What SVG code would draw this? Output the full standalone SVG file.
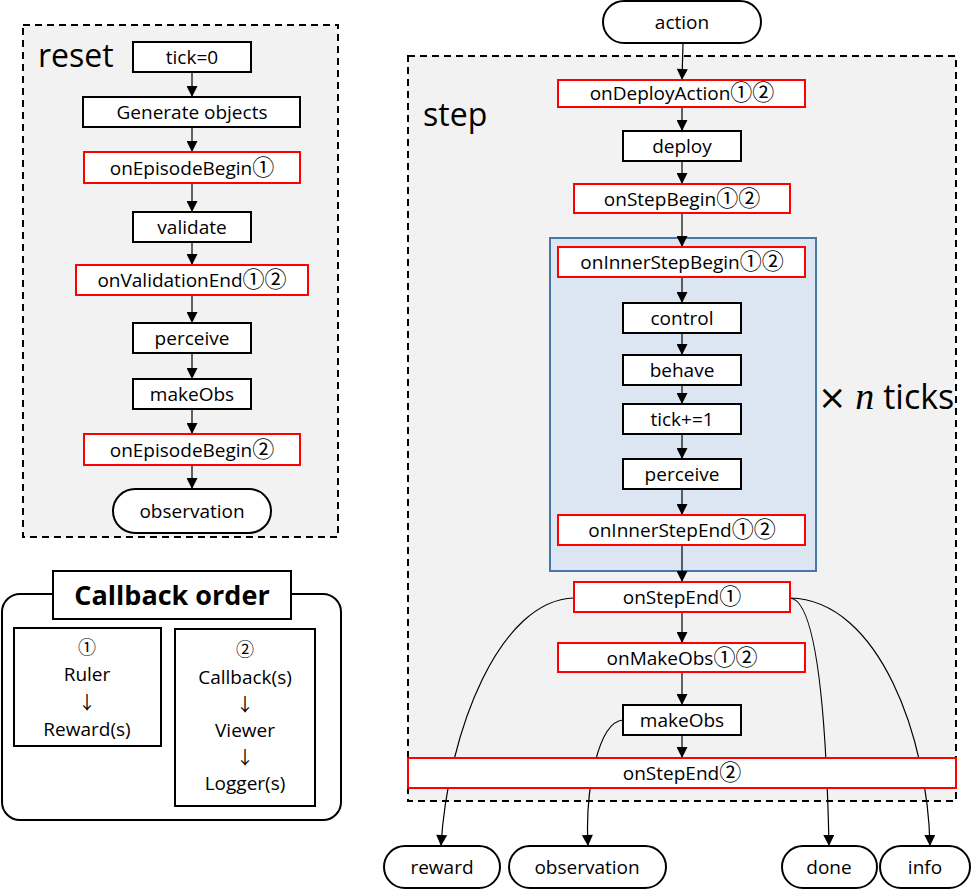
<svg xmlns="http://www.w3.org/2000/svg" width="977" height="894" viewBox="0 0 977 894">
<defs>
<style>
.t{font-family:"Open Sans","Noto Sans CJK JP",sans-serif;font-size:19px;fill:#000;text-anchor:middle}
.c{font-family:"Noto Sans CJK JP","DejaVu Sans",sans-serif;font-size:22px}
.dn{font-family:"Noto Sans CJK JP","DejaVu Sans",sans-serif;font-size:18px;fill:#000;text-anchor:middle}
.blk{fill:#fff;stroke:#000;stroke-width:2}
.red{fill:#fff;stroke:#ff0000;stroke-width:2}
.pill{fill:#fff;stroke:#000;stroke-width:2}
.cont{fill:#f2f2f2;stroke:#000;stroke-width:2;stroke-dasharray:7,5}
.ar{fill:none;stroke:#000;stroke-width:1.2;marker-end:url(#ah)}
.big{font-family:"Open Sans",sans-serif;font-size:32px;fill:#000}
</style>
<marker id="ah" viewBox="0 0 10 10" refX="10" refY="5" markerWidth="12" markerHeight="11" markerUnits="userSpaceOnUse" orient="auto">
<path d="M0,0 L10,5 L0,10 Z" fill="#000"/>
</marker>
</defs>
<rect width="977" height="894" fill="#fff"/>

<!-- containers -->
<g id="reset-container">
<rect class="cont" x="23" y="25" width="315" height="512"/>
<text class="big" x="38" y="67">reset</text>
</g>
<g id="step-container">
<rect class="cont" x="408" y="56" width="548" height="745"/>
<text class="big" x="423" y="126">step</text>
</g>
<g id="inner-loop">
<rect x="550" y="238" width="266" height="333" fill="#dce6f2" stroke="#4a76a8" stroke-width="2"/>
<text x="818" y="409" font-family="'Open Sans',sans-serif" font-size="34" fill="#000"><tspan font-family="'DejaVu Sans',sans-serif" font-size="34">×</tspan> <tspan font-family="'Liberation Serif',serif" font-style="italic" font-size="38">n</tspan> ticks</text>
</g>

<!-- connectors -->
<g id="connectors">
<line class="ar" x1="192" y1="72" x2="192" y2="97"/>
<line class="ar" x1="192" y1="127" x2="192" y2="152"/>
<line class="ar" x1="192" y1="183" x2="192" y2="212"/>
<line class="ar" x1="192" y1="242" x2="192" y2="265"/>
<line class="ar" x1="192" y1="295" x2="192" y2="323"/>
<line class="ar" x1="192" y1="353" x2="192" y2="379"/>
<line class="ar" x1="192" y1="409" x2="192" y2="434"/>
<line class="ar" x1="192" y1="465" x2="192" y2="489"/>

<line class="ar" x1="683" y1="43" x2="682" y2="80"/>
<line class="ar" x1="682" y1="107" x2="682" y2="131"/>
<line class="ar" x1="682" y1="161" x2="682" y2="184"/>
<line class="ar" x1="682" y1="213" x2="682" y2="247"/>
<line class="ar" x1="682" y1="277" x2="682" y2="303"/>
<line class="ar" x1="682" y1="333" x2="682" y2="355"/>
<line class="ar" x1="682" y1="385" x2="682" y2="404"/>
<line class="ar" x1="682" y1="434" x2="682" y2="459"/>
<line class="ar" x1="682" y1="489" x2="682" y2="515"/>
<line class="ar" x1="682" y1="545" x2="682" y2="582"/>
<line class="ar" x1="682" y1="612" x2="682" y2="643"/>
<line class="ar" x1="682" y1="672" x2="682" y2="705"/>
<line class="ar" x1="682" y1="735" x2="682" y2="758"/>

<path class="ar" d="M574,598 C500,600 448,730 441,846"/>
<path class="ar" d="M623,720 C598,722 585,790 588,846"/>
<path class="ar" d="M790,598 C815,600 826,700 829,846"/>
<path class="ar" d="M790,598 C880,600 928,740 930,846"/>
</g>

<!-- reset nodes -->
<g id="tick0"><rect class="blk" x="133" y="42" width="118" height="30"/><text class="t" x="192" y="64">tick=0</text></g>
<g id="generate"><rect class="blk" x="83" y="97" width="217" height="30"/><text class="t" x="192" y="119">Generate objects</text></g>
<g id="onEpisodeBegin1"><rect class="red" x="84" y="152" width="216" height="31"/><text class="t" x="192" y="175">onEpisodeBegin<tspan class="c">①</tspan></text></g>
<g id="validate"><rect class="blk" x="133" y="212" width="118" height="30"/><text class="t" x="192" y="234">validate</text></g>
<g id="onValidationEnd"><rect class="red" x="76" y="265" width="232" height="30"/><text class="t" x="192" y="287">onValidationEnd<tspan class="c">①②</tspan></text></g>
<g id="perceive-reset"><rect class="blk" x="133" y="323" width="118" height="30"/><text class="t" x="192" y="345">perceive</text></g>
<g id="makeObs-reset"><rect class="blk" x="133" y="379" width="118" height="30"/><text class="t" x="192" y="401">makeObs</text></g>
<g id="onEpisodeBegin2"><rect class="red" x="84" y="434" width="216" height="31"/><text class="t" x="192" y="457">onEpisodeBegin<tspan class="c">②</tspan></text></g>
<g id="observation-reset"><rect class="pill" x="113" y="489" width="158" height="44" rx="22"/><text class="t" x="192" y="518">observation</text></g>

<!-- callback order -->
<g id="callback-order">
<rect x="2" y="594" width="339" height="226" rx="18" fill="#fff" stroke="#000" stroke-width="2"/>
<rect x="53" y="571" width="238" height="48" fill="#fff" stroke="#000" stroke-width="2"/>
<text x="172" y="605" font-family="'Open Sans',sans-serif" font-size="27" font-weight="bold" text-anchor="middle">Callback order</text>
</g>
<g id="order1">
<rect class="blk" x="14" y="628" width="147" height="118"/>
<text class="dn" x="87" y="654">①</text>
<text class="t" x="87" y="681">Ruler</text>
<text class="dn" x="87" y="709">↓</text>
<text class="t" x="87" y="736">Reward(s)</text>
</g>
<g id="order2">
<rect class="blk" x="175" y="629" width="140" height="177"/>
<text class="dn" x="245" y="656">②</text>
<text class="t" x="245" y="684">Callback(s)</text>
<text class="dn" x="245" y="711">↓</text>
<text class="t" x="245" y="737">Viewer</text>
<text class="dn" x="245" y="764">↓</text>
<text class="t" x="245" y="790">Logger(s)</text>
</g>

<!-- step nodes -->
<g id="action"><rect class="pill" x="603" y="1" width="158" height="42" rx="21"/><text class="t" x="682" y="29">action</text></g>
<g id="onDeployAction"><rect class="red" x="558" y="80" width="247" height="27"/><text class="t" x="682" y="100">onDeployAction<tspan class="c">①②</tspan></text></g>
<g id="deploy"><rect class="blk" x="623" y="131" width="118" height="30"/><text class="t" x="682" y="153">deploy</text></g>
<g id="onStepBegin"><rect class="red" x="574" y="184" width="216" height="29"/><text class="t" x="682" y="206">onStepBegin<tspan class="c">①②</tspan></text></g>
<g id="onInnerStepBegin"><rect class="red" x="558" y="247" width="247" height="30"/><text class="t" x="682" y="269">onInnerStepBegin<tspan class="c">①②</tspan></text></g>
<g id="control"><rect class="blk" x="623" y="303" width="118" height="30"/><text class="t" x="682" y="325">control</text></g>
<g id="behave"><rect class="blk" x="623" y="355" width="118" height="30"/><text class="t" x="682" y="377">behave</text></g>
<g id="tickinc"><rect class="blk" x="623" y="404" width="118" height="30"/><text class="t" x="682" y="426">tick+=1</text></g>
<g id="perceive-step"><rect class="blk" x="623" y="459" width="118" height="30"/><text class="t" x="682" y="481">perceive</text></g>
<g id="onInnerStepEnd"><rect class="red" x="558" y="515" width="247" height="30"/><text class="t" x="682" y="537">onInnerStepEnd<tspan class="c">①②</tspan></text></g>
<g id="onStepEnd1"><rect class="red" x="574" y="582" width="216" height="30"/><text class="t" x="682" y="604">onStepEnd<tspan class="c">①</tspan></text></g>
<g id="onMakeObs"><rect class="red" x="558" y="643" width="247" height="29"/><text class="t" x="682" y="665">onMakeObs<tspan class="c">①②</tspan></text></g>
<g id="makeObs-step"><rect class="blk" x="623" y="705" width="118" height="30"/><text class="t" x="682" y="727">makeObs</text></g>
<g id="onStepEnd2"><rect class="red" x="408" y="758" width="548" height="30"/><text class="t" x="682" y="780">onStepEnd<tspan class="c">②</tspan></text></g>

<g id="reward"><rect class="pill" x="384" y="846" width="116" height="42" rx="21"/><text class="t" x="442" y="874">reward</text></g>
<g id="observation-step"><rect class="pill" x="509" y="846" width="157" height="42" rx="21"/><text class="t" x="587" y="874">observation</text></g>
<g id="done"><rect class="pill" x="782" y="846" width="95" height="42" rx="21"/><text class="t" x="829" y="874">done</text></g>
<g id="info"><rect class="pill" x="880" y="846" width="90" height="42" rx="21"/><text class="t" x="925" y="874">info</text></g>
</svg>
